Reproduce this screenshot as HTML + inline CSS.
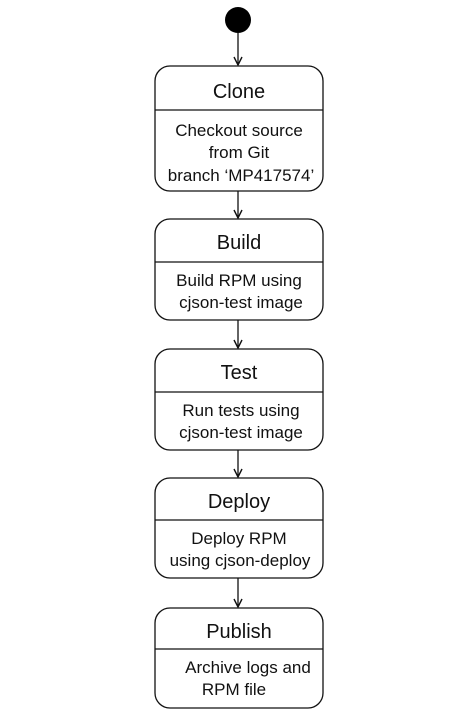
<!DOCTYPE html>
<html><head><meta charset="utf-8"><style>
body{margin:0;background:#fff;width:476px;height:719px;overflow:hidden}
</style></head><body>
<svg width="476" height="719" xmlns="http://www.w3.org/2000/svg" font-family="Liberation Sans, sans-serif" fill="#111">
<defs><marker id="a" markerWidth="10" markerHeight="10" refX="9" refY="5" orient="auto" markerUnits="userSpaceOnUse"><path d="M1,1 L9,5 L1,9" fill="none" stroke="#111" stroke-width="1.4"/></marker></defs>
<circle cx="238" cy="20" r="13" fill="#000"/>
<g stroke="#111" stroke-width="1.3" fill="none">
<line x1="238" y1="33" x2="238" y2="65" marker-end="url(#a)"/>
<line x1="238" y1="191" x2="238" y2="218" marker-end="url(#a)"/>
<line x1="238" y1="320" x2="238" y2="348" marker-end="url(#a)"/>
<line x1="238" y1="450" x2="238" y2="477" marker-end="url(#a)"/>
<line x1="238" y1="578" x2="238" y2="607" marker-end="url(#a)"/>
<rect x="155" y="66" width="168" height="125" rx="15"/><line x1="155" y1="110" x2="323" y2="110"/>
<rect x="155" y="219" width="168" height="101" rx="15"/><line x1="155" y1="262" x2="323" y2="262"/>
<rect x="155" y="349" width="168" height="101" rx="15"/><line x1="155" y1="392" x2="323" y2="392"/>
<rect x="155" y="478" width="168" height="100" rx="15"/><line x1="155" y1="520" x2="323" y2="520"/>
<rect x="155" y="608" width="168" height="100" rx="15"/><line x1="155" y1="649" x2="323" y2="649"/>
</g>
<g text-anchor="middle" font-size="20">
<text x="239" y="98">Clone</text>
<text x="239" y="249">Build</text>
<text x="239" y="379">Test</text>
<text x="239" y="508">Deploy</text>
<text x="239" y="638">Publish</text>
</g>
<g text-anchor="middle" font-size="17">
<text x="239" y="136">Checkout source</text>
<text x="239" y="158">from Git</text>
<text x="241" y="181">branch ‘MP417574’</text>
<text x="239" y="286">Build RPM using</text>
<text x="241" y="308">cjson-test image</text>
<text x="241" y="416">Run tests using</text>
<text x="241" y="438">cjson-test image</text>
<text x="239" y="544">Deploy RPM</text>
<text x="240" y="566">using cjson-deploy</text>
<text x="248" y="673">Archive logs and</text>
<text x="234" y="695">RPM file</text>
</g>
</svg>
</body></html>
